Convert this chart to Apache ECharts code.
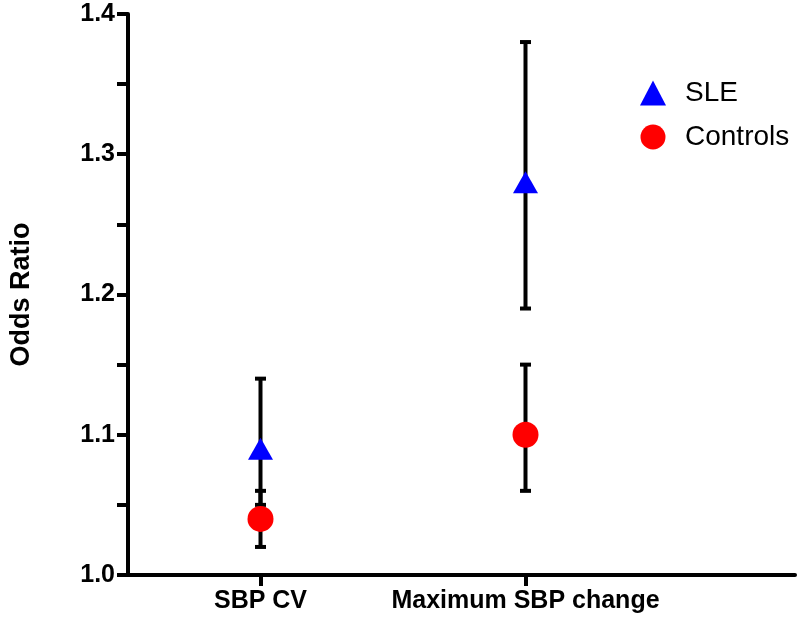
<!DOCTYPE html>
<html><head><meta charset="utf-8">
<script src="https://cdn.jsdelivr.net/npm/echarts@6/dist/echarts.min.js"></script>
<style>html,body{margin:0;padding:0;background:#fff}#c{width:800px;height:629px}</style>
</head><body><div id="c"></div>
<script>
const categories = ['SBP CV', 'Maximum SBP change'];
const catPos = [0.5, 1.5];
const sleOR = [1.09, 1.28];
const sleLow = [1.05, 1.19];
const sleHigh = [1.14, 1.38];
const ctrlOR = [1.04, 1.10];
const ctrlLow = [1.02, 1.06];
const ctrlHigh = [1.06, 1.15];
const yTicks = [1.0, 1.1, 1.2, 1.3, 1.4];

const chart = echarts.init(document.getElementById('c'));
function errData(low, high){ return catPos.map((x,i)=>[x, low[i], high[i]]); }
function errRender(params, api){
  const x = api.value(0);
  const lo = api.coord([x, api.value(1)]);
  const hi = api.coord([x, api.value(2)]);
  const w = 5.5;
  const st = {stroke:'#000', lineWidth:4};
  return {type:'group', children:[
    {type:'line', shape:{x1:lo[0],y1:lo[1],x2:hi[0],y2:hi[1]}, style:st},
    {type:'line', shape:{x1:lo[0]-w,y1:lo[1],x2:lo[0]+w,y2:lo[1]}, style:st},
    {type:'line', shape:{x1:hi[0]-w,y1:hi[1],x2:hi[0]+w,y2:hi[1]}, style:st}
  ]};
}
chart.setOption({
  animation:false,
  grid:{left:128, right:5, top:14, bottom:54, containLabel:false, outerBoundsMode:'none'},
  legend:{
    data:[{name:'SLE', icon:'triangle'}, {name:'Controls', icon:'circle'}],
    orient:'vertical', left:635, top:74, itemWidth:26, itemHeight:25, itemGap:16,
    textStyle:{fontFamily:'Liberation Sans, Arial', fontSize:28, color:'#000', padding:[0,0,0,14]}
  },
  xAxis:{
    type:'value', min:0, max:2.517,
    axisLine:{lineStyle:{color:'#000', width:4}},
    axisTick:{show:true, customValues:catPos, length:11, inside:false, lineStyle:{color:'#000', width:4}},
    axisLabel:{customValues:catPos, formatter:v=>categories[catPos.indexOf(v)] ?? '', fontFamily:'Liberation Sans, Arial', fontWeight:'bold', fontSize:25, color:'#000', margin:14},
    splitLine:{show:false}
  },
  yAxis:{
    type:'value', min:1.0, max:1.4, interval:0.1,
    name:'Odds Ratio', nameLocation:'middle', nameGap:93, nameRotate:90,
    nameTextStyle:{fontFamily:'Liberation Sans, Arial', fontWeight:'bold', fontSize:27, color:'#000'},
    axisLine:{show:true, lineStyle:{color:'#000', width:4}},
    axisTick:{show:true, length:11, lineStyle:{color:'#000', width:4}},
    minorTick:{show:true, splitNumber:2, length:11, lineStyle:{color:'#000', width:4}},
    axisLabel:{formatter:v=>v.toFixed(1), fontFamily:'Liberation Sans, Arial', fontWeight:'bold', fontSize:25, color:'#000', margin:13},
    splitLine:{show:false}
  },
  series:[
    {type:'custom', name:'errSLE', renderItem:errRender, data:errData(sleLow, sleHigh), z:1, silent:true},
    {type:'custom', name:'errCtrl', renderItem:errRender, data:errData(ctrlLow, ctrlHigh), z:1, silent:true},
    {type:'scatter', name:'SLE', symbol:'triangle', symbolSize:[25,22], itemStyle:{color:'#0000ff', opacity:1}, data:catPos.map((x,i)=>[x, sleOR[i]]), z:3},
    {type:'scatter', name:'Controls', symbol:'circle', symbolSize:26, itemStyle:{color:'#ff0000', opacity:1}, data:catPos.map((x,i)=>[x, ctrlOR[i]]), z:3}
  ]
});
</script></body></html>
